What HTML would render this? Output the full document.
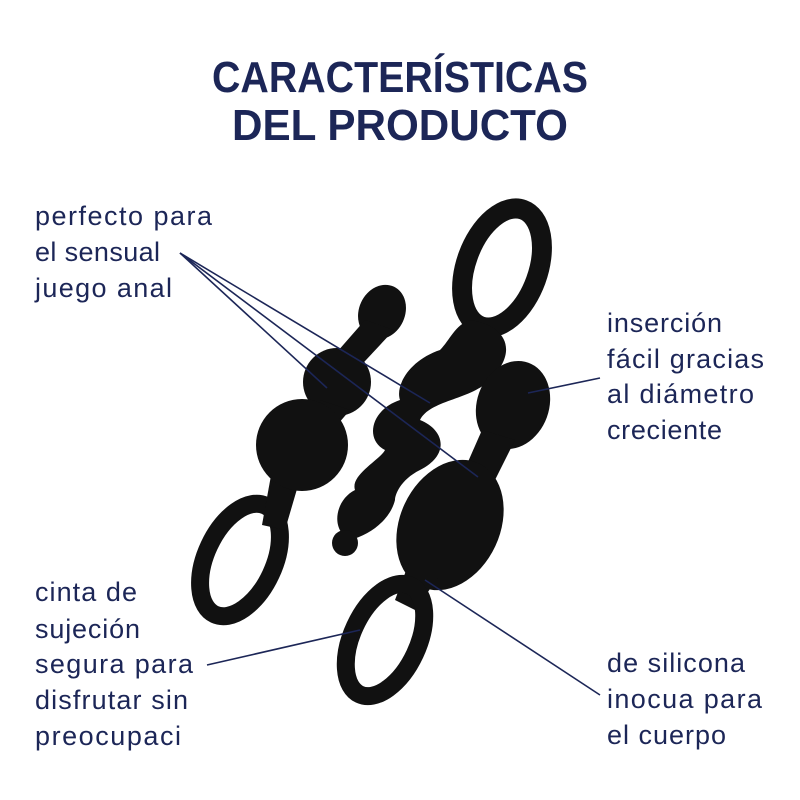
<!DOCTYPE html>
<html><head><meta charset="utf-8"><style>
body{margin:0;width:800px;height:800px;background:#fff;overflow:hidden}
svg{display:block}
.t{font-family:"Liberation Sans",sans-serif;font-weight:bold;font-size:44px;fill:#1c2657;text-anchor:start}
.l{font-family:"Liberation Sans",sans-serif;font-size:27px;fill:#1c2657}
</style></head><body>
<svg width="800" height="800" viewBox="0 0 800 800">
<text class="t" x="212" y="92" textLength="376" lengthAdjust="spacingAndGlyphs">CARACTERÍSTICAS</text>
<text class="t" x="232" y="140" textLength="336" lengthAdjust="spacingAndGlyphs">DEL PRODUCTO</text>
<g fill="#111">
<ellipse cx="240" cy="560" rx="34" ry="60" transform="rotate(25 240 560)" fill="none" stroke="#111" stroke-width="18"/>
<path d="M272 470 L302 472 L285 530 L262 525 Z"/>
<ellipse cx="382" cy="312" rx="23" ry="28" transform="rotate(25 382 312)"/>
<path d="M365 320 L394 330 L352 375 L330 360 Z"/>
<circle cx="337" cy="382" r="34"/>
<path d="M320 400 L350 410 L320 445 L295 430 Z"/>
<circle cx="302" cy="445" r="46"/>
<ellipse cx="502" cy="268" rx="36" ry="62" transform="rotate(20 502 268)" fill="none" stroke="#111" stroke-width="20"/>
<path d="M470 320 C505 325 520 350 490 380 C470 400 430 400 420 420 C445 430 450 455 420 470 C400 480 395 495 395 500 C390 520 370 535 350 540 C330 530 335 500 355 490 C350 475 380 460 385 450 C365 440 370 410 400 400 C395 385 410 360 440 350 C450 340 455 325 470 320 Z"/>
<circle cx="345" cy="543" r="13"/>
<ellipse cx="513" cy="405" rx="36" ry="45" transform="rotate(20 513 405)"/>
<path d="M482 430 L515 440 L490 490 L460 480 Z"/>
<ellipse cx="450" cy="525" rx="50" ry="68" transform="rotate(25 450 525)"/>
<path d="M410 560 L440 575 L415 610 L395 600 Z"/>
<ellipse cx="385" cy="640" rx="33" ry="60" transform="rotate(25 385 640)" fill="none" stroke="#111" stroke-width="18"/>
</g>
<g stroke="#1c2657" stroke-width="1.6">
<line x1="180" y1="253" x2="327" y2="388"/>
<line x1="180" y1="253" x2="430" y2="403"/>
<line x1="180" y1="253" x2="478" y2="477"/>
<line x1="600" y1="378" x2="528" y2="393"/>
<line x1="207" y1="665" x2="360" y2="630"/>
<line x1="600" y1="695" x2="425" y2="580"/>
</g>
<text class="l" x="35" y="225" textLength="177">perfecto para</text>
<text class="l" x="35" y="261" textLength="125">el sensual</text>
<text class="l" x="35" y="297" textLength="137">juego anal</text>
<text class="l" x="607" y="332" textLength="115">inserción</text>
<text class="l" x="607" y="368" textLength="157">fácil gracias</text>
<text class="l" x="607" y="403" textLength="147">al diámetro</text>
<text class="l" x="607" y="439" textLength="115">creciente</text>
<text class="l" x="35" y="601" textLength="102">cinta de</text>
<text class="l" x="35" y="638" textLength="105">sujeción</text>
<text class="l" x="35" y="673" textLength="158">segura para</text>
<text class="l" x="35" y="709" textLength="153">disfrutar sin</text>
<text class="l" x="35" y="745" textLength="146">preocupaci</text>
<text class="l" x="607" y="672" textLength="138">de silicona</text>
<text class="l" x="607" y="708" textLength="155">inocua para</text>
<text class="l" x="607" y="744" textLength="119">el cuerpo</text>
</svg>
</body></html>
